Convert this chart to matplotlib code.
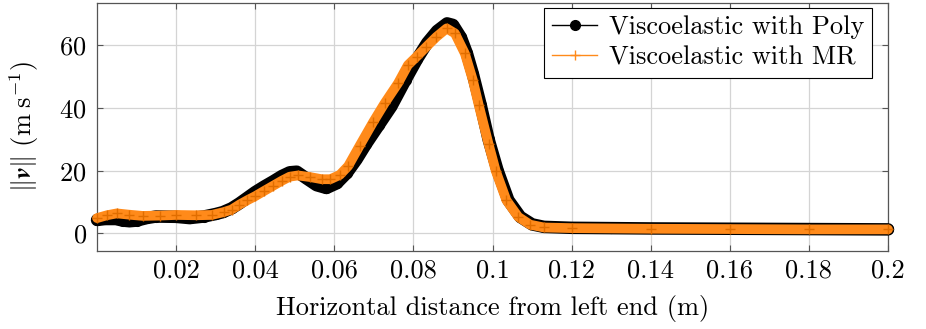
import matplotlib
matplotlib.use('Agg')
import matplotlib.pyplot as plt
from matplotlib.lines import Line2D

plt.rcParams['font.family'] = 'serif'
plt.rcParams['font.serif'] = ['cmr10']
plt.rcParams['mathtext.fontset'] = 'cm'
plt.rcParams['axes.formatter.use_mathtext'] = True

# speed magnitude along the horizontal line, two material models
x_poly = [0.0, 0.002, 0.0048, 0.0065, 0.0082, 0.010, 0.0125, 0.0149, 0.020, 0.0234,
          0.027, 0.030, 0.0318, 0.034, 0.036, 0.038, 0.040, 0.0423, 0.0445, 0.0467,
          0.0487, 0.0505, 0.0529, 0.0555, 0.058, 0.0606, 0.0631, 0.0656, 0.068, 0.0712,
          0.0744, 0.078, 0.081, 0.0835, 0.086, 0.0885, 0.090, 0.092, 0.0935, 0.095,
          0.097, 0.099, 0.1013, 0.104, 0.107, 0.110, 0.113, 0.120, 0.130, 0.140,
          0.160, 0.180, 0.200]
v_poly = [4.3, 4.6, 4.6, 4.1, 3.9, 4.1, 4.9, 5.4, 5.3, 4.9,
          5.4, 6.2, 6.8, 8.0, 9.6, 11.4, 13.2, 15.0, 16.6, 18.3,
          19.5, 19.7, 17.6, 15.4, 14.5, 16.0, 19.2, 23.6, 28.5, 34.5,
          40.5, 49.0, 55.8, 60.8, 64.6, 67.0, 66.5, 62.5, 57.5, 51.0,
          41.0, 30.0, 20.0, 10.6, 5.3, 2.9, 2.1, 1.8, 1.7, 1.6,
          1.5, 1.4, 1.3]

x_mr = [0.0, 0.0025, 0.005, 0.008, 0.0115, 0.016, 0.020, 0.025, 0.029, 0.032,
        0.034, 0.036, 0.038, 0.040, 0.0423, 0.0445, 0.0467, 0.0487, 0.0508, 0.0538,
        0.0568, 0.059, 0.0614, 0.0635, 0.0664, 0.0698, 0.0727, 0.0761, 0.0786, 0.0808,
        0.0833, 0.0858, 0.0884, 0.0905, 0.093, 0.095, 0.0965, 0.099, 0.1008, 0.1035,
        0.1065, 0.1095, 0.113, 0.120, 0.140, 0.160, 0.180, 0.200]
v_mr = [4.9, 5.8, 6.4, 6.0, 5.6, 5.7, 5.9, 5.8, 5.9, 6.8,
        7.6, 9.2, 10.6, 11.9, 13.6, 15.2, 16.8, 18.1, 18.5, 18.0,
        17.3, 17.3, 18.7, 21.5, 28.0, 35.5, 41.5, 47.9, 53.7, 56.4,
        59.6, 62.7, 65.4, 63.8, 57.4, 49.0, 41.0, 28.5, 20.0, 10.6,
        5.3, 2.8, 1.9, 1.7, 1.5, 1.4, 1.3, 1.3]

xticks = [0.02, 0.04, 0.06, 0.08, 0.1, 0.12, 0.14, 0.16, 0.18, 0.2]
xtick_labels = ['0.02', '0.04', '0.06', '0.08', '0.1', '0.12', '0.14', '0.16', '0.18', '0.2']
yticks = [0, 20, 40, 60]

black = '#000000'
orange = '#ff8a1a'

fig = plt.figure(figsize=(9.26, 3.29), dpi=100)
ax = fig.add_axes([0.1048, 0.238, 0.8542, 0.7538])

# thick bands with dense marks
ax.plot(x_poly, v_poly, color=black, lw=9.0, solid_capstyle='round',
        solid_joinstyle='round', clip_on=False, zorder=3)
ax.plot(x_poly, v_poly, 'o', color=black, ms=7, clip_on=False, zorder=3)
ax.plot(x_mr, v_mr, color=orange, lw=7.0, solid_capstyle='round',
        solid_joinstyle='round', clip_on=False, zorder=4)
ax.plot(x_mr, v_mr, '+', color='#e06d00', ms=7, mew=1.0, clip_on=False, zorder=4)

ax.set_xlim(0, 0.2)
ax.set_ylim(-5.5, 73.6)
ax.set_xticks(xticks)
ax.set_xticklabels(xtick_labels)
ax.set_yticks(yticks)

ax.grid(True, color='#d4d4d4', lw=0.9, zorder=0)
ax.set_axisbelow(True)
ax.tick_params(direction='in', length=4, width=0.8, color='#555555',
               top=True, right=True, labelsize=19)
ax.tick_params(axis='y', pad=7.5)
ax.tick_params(axis='x', pad=6)
for s in ax.spines.values():
    s.set_color('#555555')
    s.set_linewidth(0.9)

ax.set_xlabel('Horizontal distance from left end (m)', fontsize=19, labelpad=9)
ax.set_ylabel(r'$\Vert\boldsymbol{v}\Vert\ (\mathrm{m\;s}^{-1})$', fontsize=19, labelpad=13)

handles = [
    Line2D([], [], color=black, lw=1.0, marker='o', ms=7),
    Line2D([], [], color=orange, lw=1.0, marker='+', ms=7, mew=1.0),
]
leg = ax.legend(handles, ['Viscoelastic with Poly', 'Viscoelastic with MR'],
                loc='upper right', bbox_to_anchor=(0.98, 0.98), borderaxespad=0,
                fontsize=19, fancybox=False, framealpha=1, edgecolor='black',
                handlelength=1.7, handletextpad=0.45, labelspacing=0.25,
                borderpad=0.3)
leg.get_frame().set_linewidth(0.8)
leg.set_zorder(10)

fig.savefig('out.png', dpi=100)
plt.close(fig)
